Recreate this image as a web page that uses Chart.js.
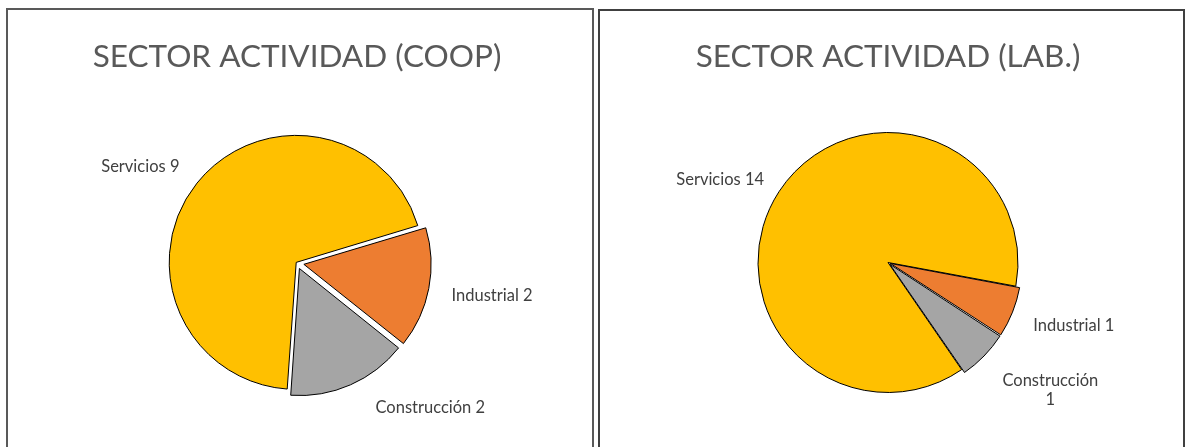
<!DOCTYPE html>
<html>
<head>
<meta charset="utf-8">
<script src="https://cdn.jsdelivr.net/npm/chart.js@4"></script>
<style>
  body { margin: 0; background: #fff; width: 1186px; height: 447px; overflow: hidden; position: relative; }
  .panel { position: absolute; box-sizing: border-box; height: 470px; background: #fff; }
  #panelCoop { left: 6px; top: 8px; width: 588px; border: 2px solid #595959; }
  #panelLab { left: 598px; top: 9px; width: 587px; border: 2px solid #404040; }
  canvas { position: absolute; left: 0; top: 0; }
</style>
</head>
<body>
<div class="panel" id="panelCoop"><canvas id="chartCoop" width="584" height="437"></canvas></div>
<div class="panel" id="panelLab"><canvas id="chartLab" width="583" height="436"></canvas></div>
<script>
Chart.defaults.font.family = 'Lato';
Chart.defaults.color = '#404040';

var sectores = ['Servicios', 'Industrial', 'Construcción'];
var coopValues = [9, 2, 2];
var labValues = [14, 1, 1];
var sectorColors = ['#FFC000', '#ED7D31', '#A5A5A5'];

// label placement: [angle shift from slice middle (deg), distance in radii]
var coopLabelPos = [[-7, 1.46], [-1.3, 1.57], [-19, 1.56]];
var labLabelPos = [[-6.7, 1.44], [-3, 1.51], [-6, 1.59]];

var sliceLabels = {
    id: 'sliceLabels',
    afterDatasetsDraw: function(chart, args, opts) {
        var ctx = chart.ctx;
        var meta = chart.getDatasetMeta(0);
        var values = chart.data.datasets[0].data;
        ctx.save();
        ctx.font = '16.5px Lato';
        ctx.fillStyle = '#404040';
        ctx.textAlign = 'center';
        ctx.textBaseline = 'middle';
        meta.data.forEach(function(arc, i) {
            var p = opts.pos[i];
            var mid = (arc.startAngle + arc.endAngle) / 2 + p[0] * Math.PI / 180;
            var dist = arc.outerRadius * p[1];
            var x = arc.x + Math.cos(mid) * dist;
            var y = arc.y + Math.sin(mid) * dist;
            var lines = opts.wrap[i] ? [chart.data.labels[i], String(values[i])] : [chart.data.labels[i] + ' ' + values[i]];
            lines.forEach(function(line, k) {
                ctx.fillText(line, x, y + (k - (lines.length - 1) / 2) * 19);
            });
        });
        ctx.restore();
    }
};

function makePie(id, title, values, rotation, radius, offsets, labelPos, wrap, titlePad, layoutPad) {
    return new Chart(document.getElementById(id), {
        type: 'pie',
        plugins: [sliceLabels],
        data: {
            labels: sectores,
            datasets: [{
                data: values,
                backgroundColor: sectorColors,
                borderColor: '#000',
                borderWidth: 1,
                offset: offsets
            }]
        },
        options: {
            responsive: false,
            animation: false,
            rotation: rotation,
            radius: radius,
            layout: { padding: layoutPad },
            plugins: {
                legend: { display: false },
                tooltip: { enabled: false },
                title: {
                    display: true,
                    text: title,
                    color: '#595959',
                    font: { size: 31.5, weight: 'normal' },
                    padding: titlePad
                },
                sliceLabels: { pos: labelPos, wrap: wrap }
            }
        }
    });
}

makePie('chartCoop', 'SECTOR ACTIVIDAD (COOP)', coopValues, 184, 126, [4, 28, 24],
    coopLabelPos, [false, false, false], { top: 28, bottom: 3.2 }, { right: 6 });
makePie('chartLab', 'SECTOR ACTIVIDAD (LAB.)', labValues, 145.5, 130, [0, 10, 10],
    labLabelPos, [false, false, true], { top: 27, bottom: 2.2 }, { right: 7 });
</script>
</body>
</html>
